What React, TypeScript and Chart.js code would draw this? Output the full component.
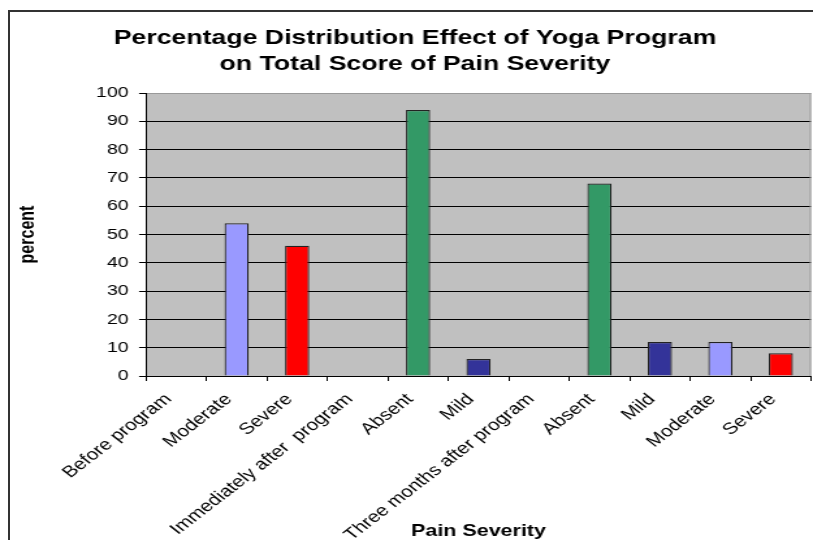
import { useEffect, useRef } from "react";
import { Chart, registerables } from "chart.js";

Chart.register(...registerables);

// ---------- data ----------
const categories = [
  "Before program",
  "Moderate",
  "Severe",
  "Immediately after  program",
  "Absent",
  "Mild",
  "Three months after program",
  "Absent",
  "Mild",
  "Moderate",
  "Severe",
];
const percentValues: (number | null)[] = [null, 54, 46, null, 94, 6, null, 68, 12, 12, 8];
const yTickValues = [0, 10, 20, 30, 40, 50, 60, 70, 80, 90, 100];
const severityColors: Record<string, string> = {
  Absent: "#339966",
  Mild: "#333399",
  Moderate: "#9999FF",
  Severe: "#FF0000",
};
const chartTitle = [
  "Percentage Distribution Effect of Yoga Program",
  "on Total Score of Pain Severity",
];
const captionText = "Figure (3): Effect of Yoga Program on Total Score of Pain Severity";
const xTitle = "Pain Severity";
const yTitle = "percent";

// ---------- layout ----------
const W = 625;
const H = 540;
const SX = 813 / W;
const FONT = "'Liberation Sans', Arial, sans-serif";

export default function App() {
  const ref = useRef<HTMLCanvasElement | null>(null);

  useEffect(() => {
    if (!ref.current) return;
    const decor = {
      id: "decor",
      beforeDraw(chart: any) {
        const { ctx, chartArea } = chart;
        ctx.save();
        ctx.fillStyle = "#C0C0C0";
        ctx.fillRect(chartArea.left, chartArea.top, chartArea.right - chartArea.left, chartArea.bottom - chartArea.top);
        ctx.restore();
      },
      afterDraw(chart: any) {
        const { ctx, chartArea } = chart;
        ctx.save();
        ctx.strokeStyle = "#999";
        ctx.lineWidth = 1;
        ctx.beginPath();
        ctx.moveTo(chartArea.right - 0.5, chartArea.top);
        ctx.lineTo(chartArea.right - 0.5, chartArea.bottom);
        ctx.stroke();
        ctx.fillStyle = "#000";
        ctx.textAlign = "center";
        ctx.textBaseline = "middle";
        ctx.font = `bold 20.5px ${FONT}`;
        ctx.fillText(chartTitle[0], 319, 38.5);
        ctx.fillText(chartTitle[1], 319, 64.5);
        ctx.textAlign = "left";
        ctx.textBaseline = "alphabetic";
        ctx.font = `bold 20.5px 'Liberation Serif', 'Times New Roman', serif`;
        ctx.fillText(captionText, 25, -9);
        ctx.restore();
      },
    };

    const chart = new Chart(ref.current, {
      type: "bar",
      data: {
        labels: categories,
        datasets: [
          {
            data: percentValues,
            backgroundColor: categories.map((c) => severityColors[c] || "#000"),
            borderColor: "#222",
            borderWidth: 1.2,
            barPercentage: 0.4,
            categoryPercentage: 1,
          },
        ],
      },
      options: {
        responsive: false,
        animation: false,
        devicePixelRatio: 1,
        layout: { padding: { top: 93, left: 0, right: 1.5, bottom: 0 } },
        plugins: {
          legend: { display: false },
          tooltip: { enabled: false },
          title: { display: false },
        },
        scales: {
          x: {
            type: "category",
            offset: true,
            grid: {
              offset: true,
              drawOnChartArea: false,
              drawTicks: true,
              tickLength: 5,
              color: "#000",
            },
            border: { color: "#000", width: 1 },
            ticks: {
              autoSkip: false,
              minRotation: 45,
              maxRotation: 45,
              color: "#000",
              padding: 9,
              labelOffset: -6,
              font: { family: FONT, size: 16 },
            },
            title: {
              display: true,
              text: xTitle,
              color: "#000",
              font: { family: FONT, size: 16.5, weight: "bold", lineHeight: 1 },
              padding: { top: 0, bottom: 0.75 },
            },
            afterFit: (s: any) => {
              s.height = 164;
            },
          },
          y: {
            min: 0,
            max: 100,
            afterBuildTicks: (s: any) => {
              s.ticks = yTickValues.map((v) => ({ value: v }));
            },
            grid: {
              color: (c: any) => (c.tick && c.tick.value === 100 ? "#999" : "#000"),
              tickColor: "#000",
              tickLength: 5.3,
              lineWidth: 1,
            },
            border: { color: "#000", width: 1 },
            ticks: {
              color: "#000",
              padding: 8,
              font: { family: FONT, size: 15 },
            },
            title: {
              display: true,
              text: yTitle,
              color: "#000",
              font: { family: FONT, size: 16, weight: "bold", lineHeight: 1 },
              padding: { top: 13.5, bottom: 0 },
            },
            afterFit: (s: any) => {
              s.width = 112.2;
            },
          },
        },
      },
      plugins: [decor],
    });
    return () => chart.destroy();
  }, []);

  return (
    <div
      style={{
        position: "absolute",
        left: 0,
        top: 0,
        width: 813,
        height: 540,
        overflow: "hidden",
        background: "#fff",
      }}
    >
      <div
        style={{
          position: "absolute",
          left: 0,
          top: 0,
          width: W,
          height: H,
          transform: `scaleX(${SX})`,
          transformOrigin: "0 0",
        }}
      >
        <canvas ref={ref} width={W} height={H} style={{ width: W, height: H, display: "block" }} />
      </div>
      <div
        style={{
          position: "absolute",
          left: 8,
          top: 10,
          width: 900,
          height: 700,
          border: "2px solid #333",
          boxSizing: "border-box",
          pointerEvents: "none",
        }}
      />
    </div>
  );
}
